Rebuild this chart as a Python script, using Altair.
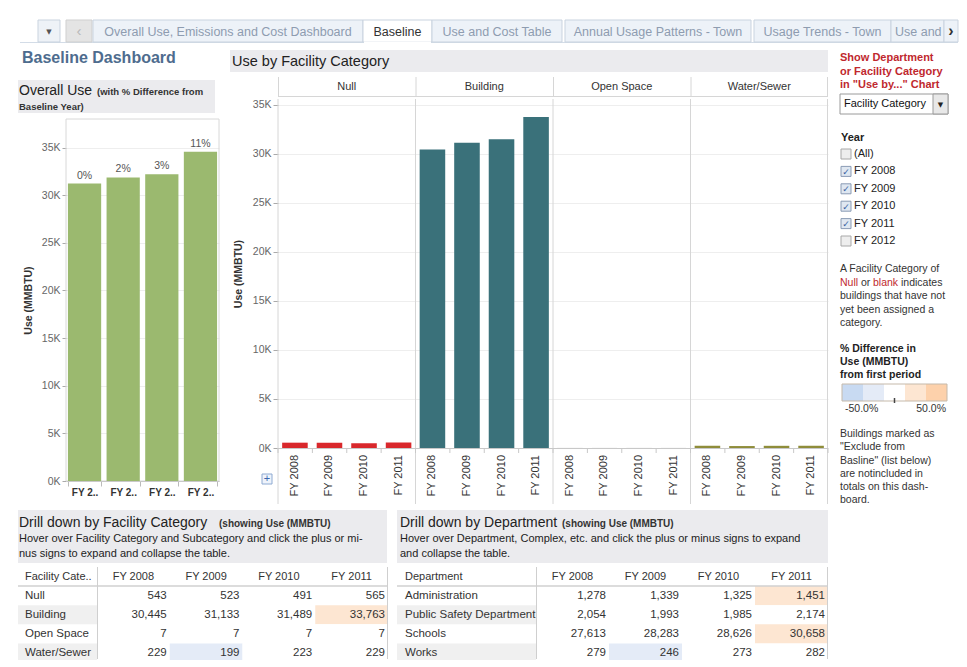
import altair as alt
import pandas as pd

# ---------------- data ----------------
years = ["FY 2008", "FY 2009", "FY 2010", "FY 2011"]
fac_names = ["Null", "Building", "Open Space", "Water/Sewer"]
fac_null = [543, 523, 491, 565]
fac_building = [30445, 31133, 31489, 33763]
fac_open = [7, 7, 7, 7]
fac_water = [229, 199, 223, 229]
dept_names = ["Administration", "Public Safety Department", "Schools", "Works"]
dept_admin = [1278, 1339, 1325, 1451]
dept_safety = [2054, 1993, 1985, 2174]
dept_schools = [27613, 28283, 28626, 30658]
dept_works = [279, 246, 273, 282]
year_filter = ["(All)", "FY 2008", "FY 2009", "FY 2010", "FY 2011", "FY 2012"]
year_checked = [False, True, True, True, True, False]
tabs = ["Overall Use, Emissions and Cost Dashboard", "Baseline", "Use and Cost Table",
        "Annual Usage Patterns - Town", "Usage Trends - Town", "Use and"]
y_ticks = [0, 5000, 10000, 15000, 20000, 25000, 30000, 35000]
legend_labels = ["-50.0%", "50.0%"]

# ---------------- styles ----------------
FONT = "Liberation Sans, Arial, sans-serif"
SYMF = "DejaVu Sans, sans-serif"
NAVY = "#4e6c8e"
RED = "#c0282e"
BAND = "#ebebee"
BANDROW = "#f0f0f0"
GRID = "#eeeeee"
SEP = "#d6d6d6"
GREEN = "#9bb96f"
FAC_COLORS = ["#d9282c", "#3a717a", "#a9a9a9", "#8f8d3a"]
HEAT = ["#c8daf2", "#e4ebf7", "#ffffff", "#fde6d2", "#fdd1ab"]

ONE = alt.Data(values=[{"k": 1}])


def T(s, x, y, size=11, color="#333333", weight="normal", align="left",
      baseline="middle", font=FONT, limit=None):
    kw = dict(text=s, fontSize=size, color=color, fontWeight=weight,
              align=align, baseline=baseline, font=font)
    if limit:
        kw["limit"] = limit
    return alt.Chart(ONE).mark_text(**kw).encode(x=alt.value(x), y=alt.value(y))


def R(x0, x1, y0, y1, fill="#ffffff", stroke=None, sw=1):
    kw = {}
    if fill is None:
        kw.update(fill="#ffffff", fillOpacity=0)
    else:
        kw.update(fill=fill)
    if stroke:
        kw.update(stroke=stroke, strokeWidth=sw)
    return alt.Chart(ONE).mark_rect(**kw).encode(
        x=alt.value(x0), x2=alt.value(x1), y=alt.value(y0), y2=alt.value(y1))


def L(x0, x1, y0, y1, color="#cccccc", sw=1):
    return alt.Chart(ONE).mark_rule(color=color, strokeWidth=sw).encode(
        x=alt.value(x0), x2=alt.value(x1), y=alt.value(y0), y2=alt.value(y1))


def spacer(w=1, h=1):
    return alt.Chart(ONE).mark_rule(strokeWidth=0, opacity=0).encode(
        x=alt.value(0.5), y=alt.value(0.5)).properties(width=w, height=h)


# ---------------- tabs row ----------------
TAB_BOXES = [(85, 355), (355, 424), (424, 554), (557, 743), (746, 883), (883, 936)]
tl = [L(12, 950, 34.5, 34.5, "#d3dce7")]
tl += [R(30, 52, 12, 34, "#eef2f7", "#c9d3df"), T("▼", 41, 23.5, 7, "#555", align="center", font=SYMF)]
tl += [R(58, 84, 12, 34, "#e4e4e4", "#cfcfcf"), T("‹", 71, 22.5, 15, "#b8b8b8", align="center")]
for i, (lab, (a, b)) in enumerate(zip(tabs, TAB_BOXES)):
    sel = lab == "Baseline"
    tl.append(R(a, b, 12, 34, "#ffffff" if sel else "#edf2f8", "#c9d3df"))
    if sel:
        tl.append(L(a + 1, b - 1, 34.5, 34.5, "#ffffff", 2))
    if i < 5:
        tl.append(T(lab, (a + b) / 2, 23.5, 12.5, "#333333" if sel else "#8e9cb0",
                    align="center", limit=b - a - 4))
    else:
        tl.append(T(lab, a + 4, 23.5, 12.5, "#8e9cb0", limit=b - a - 4))
tl += [R(936, 950, 12, 34, "#edf2f8", "#c9d3df"), T("›", 943, 22.5, 16, "#333", "bold", align="center")]
tabs_chart = alt.layer(*tl).properties(width=951, height=38)

# ---------------- left column ----------------
overall = [sum(v) for v in zip(fac_null, fac_building, fac_open, fac_water)]
ov_df = pd.DataFrame({
    "year": years, "use": overall,
    "pct": [f"{round((v / overall[0] - 1) * 100)}%" for v in overall],
})

left_header = alt.layer(
    T("Baseline Dashboard", 14, 12, 16, NAVY, "bold"),
    R(10, 207, 34, 67, BAND),
    T("Overall Use", 11, 49, 14, "#222", baseline="alphabetic"),
    T("(with % Difference from", 89, 49, 9.5, "#333", "bold", baseline="alphabetic"),
    T("Baseline Year)", 11, 63.5, 9.5, "#333", "bold", baseline="alphabetic"),
).properties(width=220, height=72)

LB_W, LB_H = 153, 362
ysc_left = alt.Scale(domain=[0, 38000], nice=False)
xsc_left = alt.Scale(domain=years, paddingInner=0.14, paddingOuter=0.05)
left_bars = alt.Chart(ov_df).mark_bar(color=GREEN).encode(
    x=alt.X("year:N", scale=xsc_left, axis=alt.Axis(
        title=None, labelAngle=0,
        labelExpr="datum.label ? substring(datum.label, 0, 4) + '..' : ''",
        labelFontSize=10, labelFontWeight="bold", labelColor="#333",
        tickBand="extent", tickSize=5, tickColor="#bbbbbb", domainColor="#bbbbbb",
        labelPadding=1)),
    y=alt.Y("use:Q", scale=ysc_left, title="Use (MMBTU)", axis=alt.Axis(
        values=y_ticks, labelExpr="format(datum.value / 1000, 'd') + 'K'",
        title="Use (MMBTU)", titleX=-38, titleY=LB_H / 2, titleAngle=270,
        titleAlign="center", titleBaseline="middle", titleFontSize=10.5,
        titleFontWeight="bold", titleColor="#333",
        labelFontSize=10.5, labelColor="#666", tickSize=4, tickColor="#aaaaaa",
        labelPadding=2, domain=False, grid=True, gridColor=GRID,
        minExtent=57, maxExtent=57)),
)
left_lbl = alt.Chart(ov_df).mark_text(baseline="bottom", dy=-3, fontSize=10.5, color="#555").encode(
    x=alt.X("year:N", scale=xsc_left),
    y=alt.Y("use:Q", scale=ysc_left, title="Use (MMBTU)"),
    text="pct:N",
)
left_chart = alt.layer(R(0, LB_W, 0, LB_H, None, "#d8d8d8"), left_bars, left_lbl).properties(
    width=LB_W, height=LB_H)
left_col = alt.vconcat(left_header, alt.hconcat(spacer(), left_chart, spacing=0), spacing=0)

# ---------------- main chart (Use by Facility Category) ----------------
sep_x = [50, 187.5, 325, 462.5, 600]
main_header = alt.layer(
    R(2, 600, 4, 26, BAND),
    T("Use by Facility Category", 4, 15.5, 14.5, "#222"),
    *[L(x + 0.5, x + 0.5, 31, 51, SEP) for x in sep_x[:-1]],
    L(599.5, 599.5, 31, 51, SEP),
    L(50, 600, 50.5, 50.5, SEP),
    *[T(c, (a + b) / 2, 41, 11, "#333", align="center")
      for c, a, b in zip(fac_names, sep_x[:-1], sep_x[1:])],
).properties(width=602, height=51)

MB_W, MB_H = 550, 349
fac_series = [fac_null, fac_building, fac_open, fac_water]
main_df = pd.DataFrame([{"cat": c, "year": y, "use": v}
                        for c, vals in zip(fac_names, fac_series)
                        for y, v in zip(years, vals)])
cat_df = pd.DataFrame({"cat": fac_names})
tick_df = pd.DataFrame({"k": list(range(17))})

xcat_sc = alt.Scale(domain=fac_names, paddingInner=0, paddingOuter=0)
xoff_sc = alt.Scale(domain=years, paddingInner=0.26, paddingOuter=0.12)
ysc_main = alt.Scale(domain=[0, 35600], nice=False)
yax_main = alt.Axis(values=y_ticks, labelExpr="format(datum.value / 1000, 'd') + 'K'",
                    title="Use (MMBTU)", titleX=-40, titleY=MB_H / 2, titleAngle=270,
                    titleAlign="center", titleBaseline="middle", titleFontSize=10.5,
                    titleFontWeight="bold", titleColor="#333",
                    labelFontSize=10.5, labelColor="#666", tickSize=5,
                    tickColor="#aaaaaa", labelPadding=2, domain=False, grid=True,
                    gridColor=GRID, minExtent=49, maxExtent=49)

main_bars = alt.Chart(main_df).mark_bar().encode(
    x=alt.X("cat:N", scale=xcat_sc, axis=None),
    xOffset=alt.XOffset("year:N", scale=xoff_sc),
    y=alt.Y("use:Q", scale=ysc_main, axis=yax_main),
    color=alt.Color("cat:N", scale=alt.Scale(domain=fac_names, range=FAC_COLORS), legend=None),
)
main_years = alt.Chart(main_df).mark_text(angle=270, align="right", baseline="middle",
                                          fontSize=11, color="#333").encode(
    x=alt.X("cat:N", scale=xcat_sc, axis=None),
    xOffset=alt.XOffset("year:N", scale=xoff_sc),
    y=alt.value(MB_H + 7),
    text="year:N",
)
main_seps = alt.Chart(cat_df).mark_rule(color=SEP).encode(
    x=alt.X("cat:N", scale=xcat_sc, axis=None, bandPosition=0),
    y=alt.value(0), y2=alt.value(405),
)
main_ticks = alt.Chart(tick_df).mark_rule(color="#c8c8c8").encode(
    x=alt.X("k:Q", scale=alt.Scale(domain=[0, 16], range=[0, MB_W]), axis=None),
    y=alt.value(MB_H), y2=alt.value(MB_H + 5),
)
main_chart = alt.layer(
    main_bars, main_years, main_seps,
    L(MB_W - 0.5, MB_W - 0.5, 0, 405, SEP),
    L(0, MB_W, MB_H + 0.5, MB_H + 0.5, "#c8c8c8"),
    main_ticks,
    R(-16, -6, 375, 385, "#eef3fb", "#8eaad2"),
    T("+", -11, 380, 11, "#3a66b0", align="center"),
).resolve_scale(x="independent").properties(width=MB_W, height=MB_H)
main_col = alt.vconcat(main_header, alt.hconcat(spacer(), main_chart, spacing=0), spacing=0)

# ---------------- right panel ----------------
rp = [
    T("Show Department", 10, 12, 11, RED, "bold"),
    T("or Facility Category", 10, 26, 11, RED, "bold"),
    T('in "Use by..." Chart', 10, 39, 11, RED, "bold"),
    R(10, 118, 48, 68, "#ffffff", "#9a9a9a"),
    R(103, 118, 48, 68, "#e8e8e8", "#9a9a9a"),
    T("Facility Category", 14, 58, 11, "#111"),
    T("▼", 110.5, 58.5, 7, "#222", align="center", font=SYMF),
    T("Year", 11, 92, 11, "#222", "bold"),
]
for j, (lab, chk) in enumerate(zip(year_filter, year_checked)):
    cy = 108 + 17.4 * j
    rp.append(R(11, 21, cy - 5, cy + 5, "#dfe7f1" if chk else "#eeeeee",
                "#8a9bb4" if chk else "#a8a8a8"))
    if chk:
        rp.append(T("✓", 16, cy + 0.5, 9, "#3a5fa0", "bold", align="center", font=SYMF))
    rp.append(T(lab, 24, cy, 11, "#222"))
rp += [
    T("A Facility Category of", 10, 223, 10.5, "#333"),
    T("Null", 10, 237, 10.5, RED),
    T("or", 31, 237, 10.5, "#333"),
    T("blank", 43, 237, 10.5, RED),
    T("indicates", 71, 237, 10.5, "#333"),
    T("buildings that have not", 10, 250, 10.5, "#333"),
    T("yet been assigned a", 10, 264, 10.5, "#333"),
    T("category.", 10, 277, 10.5, "#333"),
    T("% Difference in", 10, 303, 10.5, "#222", "bold"),
    T("Use (MMBTU)", 10, 316, 10.5, "#222", "bold"),
    T("from first period", 10, 329, 10.5, "#222", "bold"),
]
for k, c in enumerate(HEAT):
    rp.append(R(12 + 21 * k, 12 + 21 * (k + 1), 338, 355, c))
rp += [
    R(12, 117, 338, 355, None, "#c5b9aa"),
    L(64.5, 64.5, 352, 357, "#444", 1.5),
    T(legend_labels[0], 15, 363, 10.5, "#333"),
    T(legend_labels[1], 116, 363, 10.5, "#333", align="right"),
    T("Buildings marked as", 10, 388, 10.5, "#333"),
    T('"Exclude from', 10, 401, 10.5, "#333"),
    T('Basline" (list below)', 10, 415, 10.5, "#333"),
    T("are notincluded in", 10, 428, 10.5, "#333"),
    T("totals on this dash-", 10, 441, 10.5, "#333"),
    T("board.", 10, 454, 10.5, "#333"),
]
right_panel = alt.layer(*rp).properties(width=129, height=462)

row2 = alt.hconcat(left_col, main_col, right_panel, spacing=0)


# ---------------- tables ----------------
def build_table(names, series, first_header, W, name_x, col_x0, band_x0):
    TH = 93          # visible part (page is cut at the bottom)
    step = 19.1
    rows = ["__hdr"] + names
    ysc = alt.Scale(type="band", domain=rows, range=[0, step * 5], paddingInner=0, paddingOuter=0)
    xsc = alt.Scale(type="band", domain=years, range=[col_x0, W], paddingInner=0, paddingOuter=0)
    recs = []
    for n, vals in zip(names, series):
        for yr, v in zip(years, vals):
            recs.append({"name": n, "year": yr, "value": v,
                         "pct": (v / vals[0] - 1) * 100, "label": f"{v:,}"})
    df = pd.DataFrame(recs)
    band_df = pd.DataFrame({"name": names[1::2]})
    name_df = pd.DataFrame({"name": names})
    hdr_df = pd.DataFrame({"year": years, "row": ["__hdr"] * len(years)})
    bands = alt.Chart(band_df).mark_rect(color=BANDROW, clip=True).encode(
        x=alt.value(band_x0), x2=alt.value(col_x0),
        y=alt.Y("name:N", scale=ysc, axis=None))
    cells = alt.Chart(df).mark_rect(clip=True).encode(
        x=alt.X("year:N", scale=xsc, axis=None),
        y=alt.Y("name:N", scale=ysc, axis=None),
        color=alt.Color("pct:Q", scale=alt.Scale(type="threshold", domain=[-30, -10, 10, 30],
                                                 range=HEAT), legend=None))
    nums = alt.Chart(df).mark_text(align="right", dx=-3, fontSize=11.5, color="#333").encode(
        x=alt.X("year:N", scale=xsc, axis=None, bandPosition=1),
        y=alt.Y("name:N", scale=ysc, axis=None),
        text="label:N")
    names_t = alt.Chart(name_df).mark_text(align="left", fontSize=11.5, color="#333").encode(
        x=alt.value(name_x), y=alt.Y("name:N", scale=ysc, axis=None), text="name:N")
    heads = alt.Chart(hdr_df).mark_text(align="center", fontSize=11, color="#333").encode(
        x=alt.X("year:N", scale=xsc, axis=None),
        y=alt.Y("row:N", scale=ysc, axis=None), text="year:N")
    return alt.layer(
        bands, cells, nums, names_t, heads,
        T(first_header, name_x, step / 2, 11, "#333"),
        L(band_x0, W - 1, step, step, "#d0d0d0", 1.5),
        L(col_x0 + 0.5, col_x0 + 0.5, 0, TH - 1, "#cfcfcf"),
        L(W - 0.5, W - 0.5, 0, TH - 1, "#cfcfcf"),
    ).properties(width=W, height=TH)


hdr1 = alt.layer(
    R(10, 379, 2, 55, BAND),
    T("Drill down by Facility Category", 11, 19, 14, "#222", baseline="alphabetic"),
    T("(showing Use (MMBTU)", 211, 19, 10, "#333", "bold", baseline="alphabetic"),
    T("Hover over Facility Category and Subcategory and click the plus or mi-", 11, 31, 11, "#222"),
    T("nus signs to expand and collapse the table.", 11, 46, 11, "#222"),
).properties(width=380, height=58)
tbl1 = build_table(fac_names, fac_series, "Facility Cate..", 380, 17, 89, 10)

hdr2 = alt.layer(
    R(9, 440, 2, 55, BAND),
    T("Drill down by Department", 12, 19, 14, "#222", baseline="alphabetic"),
    T("(showing Use (MMBTU)", 174, 19, 10, "#333", "bold", baseline="alphabetic"),
    T("Hover over Department, Complex, etc. and click the plus or minus signs to expand", 12, 31, 11, "#222"),
    T("and collapse the table.", 12, 46, 11, "#222"),
).properties(width=440, height=58)
tbl2 = build_table(dept_names, [dept_admin, dept_safety, dept_schools, dept_works],
                   "Department", 440, 17, 148, 9)

row3 = alt.hconcat(alt.vconcat(hdr1, tbl1, spacing=0), alt.vconcat(hdr2, tbl2, spacing=0), spacing=0)

chart = alt.vconcat(tabs_chart, row2, row3, spacing=0).properties(
    padding=0, background="white"
).configure(font=FONT).configure_view(stroke=None).configure_concat(spacing=0)

chart.save("out.html", embed_options={"renderer": "svg", "actions": False})
